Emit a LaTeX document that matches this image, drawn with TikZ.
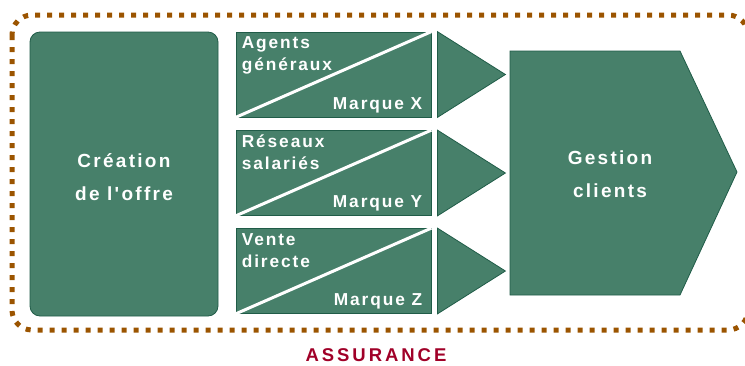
\documentclass[tikz,border=0pt]{standalone}
\usepackage{fontspec}
\newfontfamily\labelfont{Liberation Sans}
\definecolor{boxgreen}{RGB}{71,128,106}
\definecolor{boxedge}{RGB}{32,92,72}
\definecolor{dotbrown}{RGB}{155,84,0}
\definecolor{titlered}{RGB}{160,0,40}
\tikzset{
  greenshape/.style={fill=boxgreen, draw=boxedge, line width=0.8pt},
  bigtext/.style={text=white, font=\labelfont\fontsize{19}{33}\selectfont\bfseries\addfontfeatures{LetterSpace=12}, align=center, inner sep=0pt},
  smalltext/.style={text=white, font=\labelfont\fontsize{17.3}{22}\selectfont\bfseries\addfontfeatures{LetterSpace=11}, align=left, inner sep=0pt},
  channel/.style={greenshape, rectangle, minimum width=195pt, minimum height=85pt, inner sep=0pt},
  split/.style={draw=white, line width=3pt},
}
\begin{document}
\begin{tikzpicture}[x=1pt,y=-1pt]
\useasboundingbox (0,0) rectangle (745,365);

% dotted frame around the whole chain
\begin{scope}
\clip (0,0) rectangle (745,365);
\draw[dotbrown, line width=5pt, dash pattern=on 5pt off 7pt, rounded corners=20pt]
  (12,15) rectangle (748,330);
\end{scope}

% offer creation block
\node[greenshape, rectangle, rounded corners=10pt, minimum width=188pt, minimum height=284pt]
  (creation) at (124,174) {};
\node[bigtext] (creationtxt) at (124,177) {Création\\de l'offre};

% distribution channels
\foreach \n/\cy/\la/\lb/\mk in {x/74.5/Agents/généraux/X, y/173/Réseaux/salariés/Y, z/271/Vente/directe/Z}{
  \node[channel] (ch\n) at (333.5,\cy) {};
  \draw[split] (ch\n.south west) -- (ch\n.north east);
  \node[smalltext, anchor=base west] (ch\n a) at ([shift={(6pt,-17pt)}]ch\n.north west) {\la};
  \node[smalltext, anchor=base west] (ch\n b) at ([shift={(6pt,-39pt)}]ch\n.north west) {\lb};
  \node[smalltext, anchor=base east] (ch\n m) at ([shift={(-9pt,8pt)}]ch\n.south east) {Marque \mk};
  \coordinate (tri\n t) at ([xshift=6pt]ch\n.north east);
  \coordinate (tri\n b) at ([xshift=6pt]ch\n.south east);
  \coordinate (tri\n p) at ([xshift=74pt]ch\n.east);
  \draw[greenshape] (tri\n t) -- (tri\n p) -- (tri\n b) -- cycle;
}

% customer management block
\coordinate (g1) at (510,51);
\coordinate (g2) at (680,51);
\coordinate (g3) at (737,172);
\coordinate (g4) at (680,295);
\coordinate (g5) at (510,295);
\draw[greenshape] (g1) -- (g2) -- (g3) -- (g4) -- (g5) -- cycle;
\node[bigtext] (gestion) at (610,174) {Gestion\\clients};

% caption
\node[text=titlered, font=\labelfont\fontsize{18.5}{22}\selectfont\bfseries\addfontfeatures{LetterSpace=16}, inner sep=0pt]
  (assurance) at (376,355) {ASSURANCE};
\end{tikzpicture}
\end{document}
